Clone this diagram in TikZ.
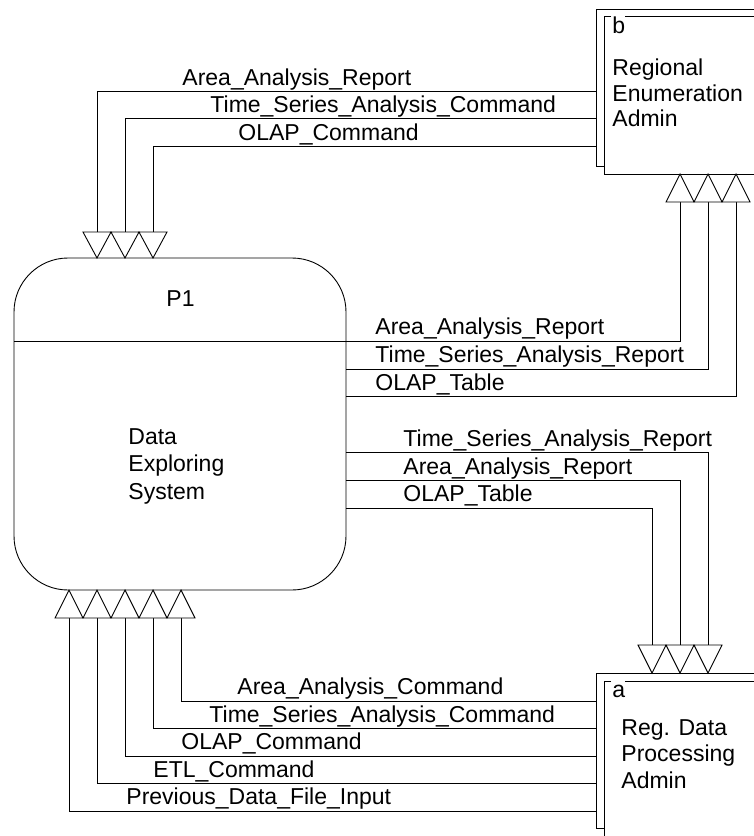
\documentclass[tikz,border=0pt]{standalone}
\usepackage{fontspec}
\setmainfont{Liberation Sans}
\begin{document}
\begin{tikzpicture}[x=1pt,y=-1pt, line width=0.9pt,
  lbl/.style={anchor=base west, inner sep=0pt, font=\fontsize{23}{26}\selectfont},
  tri/.style={draw, fill=white, line join=miter},
  flow/.style={draw}]
\useasboundingbox (0,0) rectangle (753,836);

% ---------- process P1 ----------
\node[draw, rounded corners=54pt, minimum width=332pt, minimum height=332pt, inner sep=0pt] (p1) at (180,424) {};
\coordinate (dvL) at (14,341);
\coordinate (dvR) at (346,341);
\draw (dvL) -- (dvR);
\node[lbl] (p1id) at (166,306.5) {P1};
\node[lbl] (p1l1) at (128,444) {Data};
\node[lbl] (p1l2) at (128,471.5) {Exploring};
\node[lbl] (p1l3) at (128,499) {System};

% ---------- entity b ----------
\draw (760,9) -- (596,9) -- (596,166) -- (604,166);
\draw (611,16) -- (604,16) -- (604,174) -- (760,174);
\draw (625,16) -- (760,16);
\node[lbl] (bid) at (612,33) {b};
\node[lbl] (bl1) at (612,75.5) {Regional};
\node[lbl] (bl2) at (612,101) {Enumeration};
\node[lbl] (bl3) at (612,126.5) {Admin};

% ---------- entity a ----------
\draw (760,673) -- (596,673) -- (596,828) -- (604,828);
\draw (611,681) -- (604,681) -- (604,840);
\draw (625,681) -- (760,681);
\node[lbl] (aid) at (612,697) {a};
\node[lbl] (al1) at (621,735) {Reg. Data};
\node[lbl] (al2) at (621,761.5) {Processing};
\node[lbl] (al3) at (621,788) {Admin};

% ---------- connector ends ----------
\foreach \i/\x in {1/97,2/125,3/153}{\coordinate (pin\i) at (\x,232);}
\foreach \i/\x in {1/680,2/708,3/736}{\coordinate (bin\i) at (\x,202);}
\foreach \i/\x in {1/652,2/680,3/708}{\coordinate (ain\i) at (\x,645);}
\foreach \i/\x in {1/69,2/97,3/125,4/153,5/181}{\coordinate (pb\i) at (\x,618);}

\coordinate (bo1) at (596,91);
\coordinate (bo2) at (596,118.5);
\coordinate (bo3) at (596,146);
\coordinate (pr1) at (346,369);
\coordinate (pr2) at (346,396.5);
\coordinate (pr3) at (346,452.5);
\coordinate (pr4) at (346,480.5);
\coordinate (pr5) at (346,508);
\coordinate (ao1) at (596,701);
\coordinate (ao2) at (596,728.5);
\coordinate (ao3) at (596,756);
\coordinate (ao4) at (596,783.5);
\coordinate (ao5) at (596,811);

% ---------- flows b -> P1 ----------
\draw[flow] (bo1) -| (pin1);
\draw[flow] (bo2) -| (pin2);
\draw[flow] (bo3) -| (pin3);
\node[lbl] at (182,85) {Area\_Analysis\_Report};
\node[lbl] at (210,112.5) {Time\_Series\_Analysis\_Command};
\node[lbl] at (238,140) {OLAP\_Command};

% ---------- flows P1 -> b ----------
\draw[flow] (dvR) -| (bin1);
\draw[flow] (pr1) -| (bin2);
\draw[flow] (pr2) -| (bin3);
\node[lbl] at (375,334.5) {Area\_Analysis\_Report};
\node[lbl] at (375,362.5) {Time\_Series\_Analysis\_Report};
\node[lbl] at (375,390) {OLAP\_Table};

% ---------- flows P1 -> a ----------
\draw[flow] (pr3) -| (ain3);
\draw[flow] (pr4) -| (ain2);
\draw[flow] (pr5) -| (ain1);
\node[lbl] at (403,446) {Time\_Series\_Analysis\_Report};
\node[lbl] at (403,474) {Area\_Analysis\_Report};
\node[lbl] at (403,501.5) {OLAP\_Table};

% ---------- flows a -> P1 ----------
\draw[flow] (ao1) -| (pb5);
\draw[flow] (ao2) -| (pb4);
\draw[flow] (ao3) -| (pb3);
\draw[flow] (ao4) -| (pb2);
\draw[flow] (ao5) -| (pb1);
\node[lbl] at (237,694.5) {Area\_Analysis\_Command};
\node[lbl] at (209,722) {Time\_Series\_Analysis\_Command};
\node[lbl] at (181,749.5) {OLAP\_Command};
\node[lbl] at (153,777) {ETL\_Command};
\node[lbl] at (126,804.5) {Previous\_Data\_File\_Input};

% ---------- arrowheads ----------
\foreach \x in {97,125,153}{\draw[tri] (\x-14,232) -- (\x+14,232) -- (\x,258) -- cycle;}
\foreach \x in {680,708,736}{\draw[tri] (\x-14,202) -- (\x+14,202) -- (\x,174) -- cycle;}
\foreach \x in {652,680,708}{\draw[tri] (\x-14,645) -- (\x+14,645) -- (\x,673) -- cycle;}
\foreach \x in {69,97,125,153,181}{\draw[tri] (\x-14,618) -- (\x+14,618) -- (\x,590) -- cycle;}
\end{tikzpicture}
\end{document}
